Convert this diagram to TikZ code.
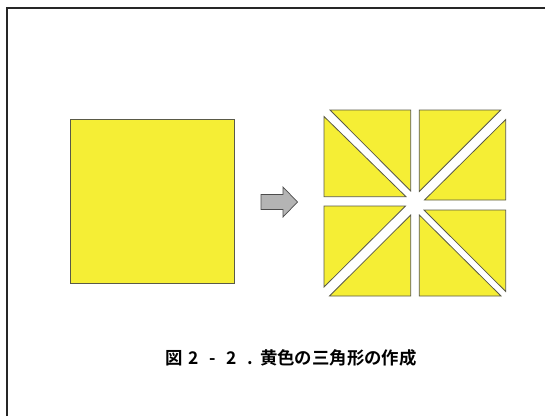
\documentclass[tikz,border=0pt]{standalone}
\usepackage{fontspec}
\newfontfamily\cjk{Noto Sans CJK JP}[BoldFont={* Bold}]
\definecolor{yel}{HTML}{F5EE35}
\definecolor{edge}{HTML}{5A5A48}
\definecolor{arrowgray}{HTML}{B4B4B4}
\begin{document}
\begin{tikzpicture}[x=1pt,y=-1pt,
  piece/.style={fill=yel,draw=edge,line width=0.8pt,line join=miter},
  frameline/.style={draw=black!85,line width=1.2pt}]
\useasboundingbox (0,0) rectangle (545,416);
% frame
\coordinate (f1) at (7,416);
\coordinate (f2) at (7,8);
\coordinate (f3) at (545,8);
\draw[frameline] (f1) -- (f2) -- (f3);
% big square
\node[piece,minimum width=164pt,minimum height=164pt,inner sep=0pt,anchor=north west] (sq) at (70,119) {};
% arrow
\draw[fill=arrowgray,draw=black!70,line width=0.7pt]
  (261,194.5) -- (283,194.5) -- (283,187) -- (297.5,202) -- (283,217) -- (283,209.5) -- (261,209.5) -- cycle;
% top-left piece
\draw[piece] (324,116.5) -- (324,196.7) -- (406,196.7) -- cycle;
\draw[piece] (330,110) -- (410.7,110) -- (410.7,191) -- cycle;
% top-right piece
\draw[piece] (419.3,110) -- (500.7,110) -- (419.3,191.5) -- cycle;
\draw[piece] (505.7,119.5) -- (505.7,200) -- (424.5,200) -- cycle;
% bottom-left piece
\draw[piece] (324,206) -- (405.5,206) -- (324,287) -- cycle;
\draw[piece] (410.7,215) -- (410.7,296) -- (329.5,296) -- cycle;
% bottom-right piece
\draw[piece] (424,210) -- (505.7,210) -- (505.7,291.5) -- cycle;
\draw[piece] (419.3,215) -- (419.3,296) -- (501,296) -- cycle;
% caption
\node[font=\cjk\bfseries\fontsize{17.4}{19}\selectfont,inner sep=0pt,anchor=west] (cap) at (165,358)
  {\makebox[19pt][l]{図}\makebox[19pt][c]{2}\makebox[19pt][c]{-}\makebox[19pt][c]{2}\makebox[19pt][c]{.}黄色の三角形の作成};
\end{tikzpicture}
\end{document}
